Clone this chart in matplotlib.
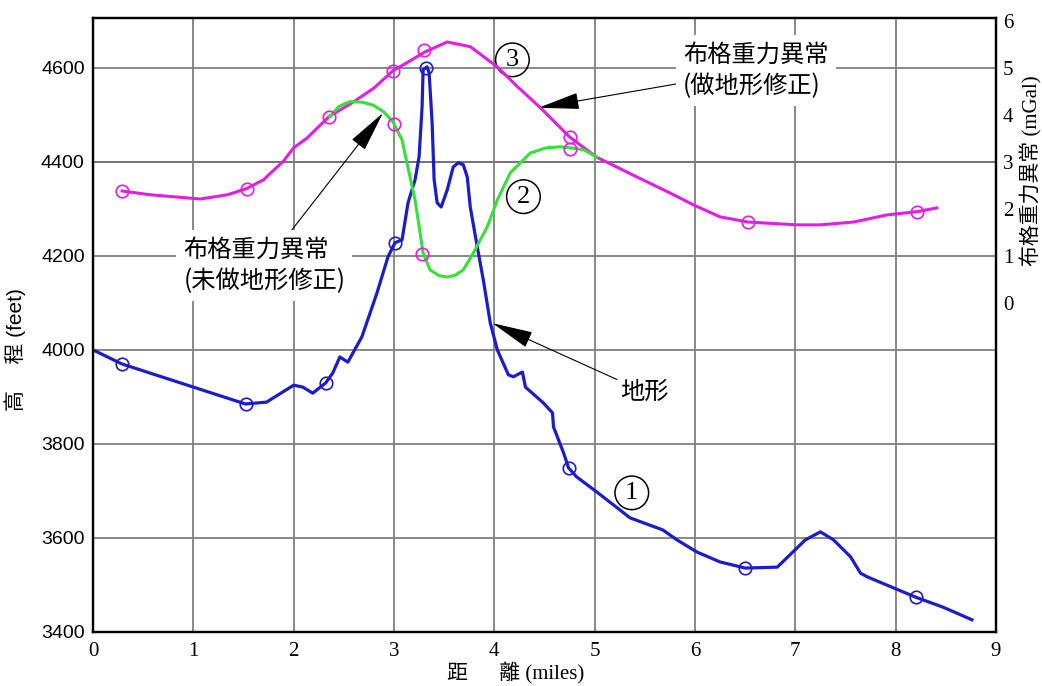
import matplotlib
matplotlib.use('Agg')
import matplotlib.pyplot as plt

CJK = 'Noto Sans CJK TC'

# topography (feet) along the profile
topo_x = [0.00, 0.29, 1.52, 1.73, 2.00, 2.09, 2.19, 2.32, 2.39, 2.46, 2.54, 2.68, 2.83, 2.94,
          3.01, 3.08, 3.14, 3.21, 3.25, 3.28, 3.29, 3.33, 3.35, 3.38, 3.40, 3.43, 3.47, 3.53,
          3.59, 3.64, 3.69, 3.73, 3.76, 3.83, 3.89, 3.96, 4.03, 4.14, 4.19, 4.28, 4.31, 4.49,
          4.58, 4.59, 4.69, 4.74, 4.82, 5.02, 5.25, 5.35, 5.68, 5.82, 6.02, 6.25, 6.50, 6.82,
          7.10, 7.25, 7.38, 7.55, 7.65, 7.72, 8.20, 8.47, 8.76]
topo_h = [4000, 3970, 3885, 3889, 3925, 3921, 3908, 3930, 3951, 3985, 3974, 4028, 4121, 4198,
          4228, 4234, 4313, 4362, 4411, 4517, 4596, 4602, 4589, 4483, 4362, 4313, 4304, 4340,
          4389, 4398, 4394, 4368, 4304, 4219, 4149, 4057, 4000, 3947, 3943, 3953, 3921, 3887,
          3866, 3836, 3781, 3749, 3730, 3698, 3660, 3643, 3617, 3596, 3570, 3549, 3536, 3538,
          3596, 3613, 3596, 3560, 3525, 3517, 3474, 3453, 3426]
topo_stn_x = [0.29, 1.52, 2.32, 3.01, 3.32, 4.74, 6.50, 8.20]
topo_stn_h = [3970, 3885, 3930, 4228, 4600, 3749, 3536, 3474]

# Bouguer anomaly with terrain correction (mGal)
bc_x = [0.29, 0.57, 1.07, 1.34, 1.53, 1.70, 1.90, 2.00, 2.13, 2.35, 2.60, 2.80, 2.99, 3.13,
        3.31, 3.53, 3.76, 4.03, 4.23, 4.46, 4.75, 5.02, 5.42, 5.75, 5.98, 6.25, 6.53, 7.02,
        7.25, 7.58, 7.91, 8.21, 8.41]
bc_g = [2.38, 2.30, 2.21, 2.30, 2.43, 2.62, 3.02, 3.30, 3.50, 3.96, 4.28, 4.57, 4.94, 5.11,
        5.34, 5.55, 5.45, 5.02, 4.60, 4.15, 3.53, 3.10, 2.68, 2.34, 2.09, 1.83, 1.72, 1.66,
        1.66, 1.72, 1.87, 1.94, 2.02]
bc_stn_x = [0.29, 1.53, 2.35, 2.99, 3.30, 4.75, 6.53, 8.21]
bc_stn_g = [2.38, 2.43, 3.96, 4.94, 5.38, 3.53, 1.72, 1.94]

# Bouguer anomaly without terrain correction (mGal)
nc_x = [2.36, 2.45, 2.56, 2.68, 2.79, 2.90, 2.99, 3.08, 3.14, 3.21, 3.26, 3.29, 3.36, 3.45,
        3.53, 3.61, 3.69, 3.79, 3.93, 4.03, 4.16, 4.36, 4.52, 4.66, 4.75, 4.89, 5.02]
nc_g = [3.96, 4.18, 4.28, 4.27, 4.21, 4.06, 3.85, 3.47, 2.87, 2.19, 1.49, 1.06, 0.70, 0.58,
        0.55, 0.59, 0.70, 1.06, 1.62, 2.19, 2.77, 3.19, 3.30, 3.32, 3.30, 3.26, 3.10]
nc_stn_x = [3.00, 3.28, 4.75]
nc_stn_g = [3.80, 1.04, 3.28]

BLUE = '#1c1cc8'
MAGENTA = '#e41de4'
GREEN = '#3ade3a'

fig = plt.figure(figsize=(10.42, 6.86), dpi=100)
ax = fig.add_axes([93 / 1042, 54 / 686, 903 / 1042, 614 / 686])
ax2 = ax.twinx()

ax.set_xlim(0, 9)
ax.set_ylim(3400, 4706)
ax2.set_ylim(-7, 6.06)

ax.set_xticks(range(10))
ax.set_yticks(range(3400, 4601, 200))
ax.grid(True, color='#808080', lw=1.3)
ax.axhline(4400, color='black', lw=1.3, zorder=1)
ax.tick_params(length=0)
ax.tick_params(axis='y', pad=6)
ax.tick_params(axis='x', pad=7)
for lab in ax.get_yticklabels():
    lab.set_fontfamily('Liberation Sans')
    lab.set_fontsize(14)
for lab in ax.get_xticklabels():
    lab.set_fontfamily('Liberation Serif')
    lab.set_fontsize(15)

ax2.set_yticks(range(0, 7))
ax2.set_yticks([0, 2, 4], minor=True)
ax2.tick_params(axis='y', which='major', length=0, pad=5)
ax2.tick_params(axis='y', which='minor', length=9, direction='in', width=1.2)
for lab in ax2.get_yticklabels():
    lab.set_fontfamily('Liberation Serif')
    lab.set_fontsize(15)

for a in (ax, ax2):
    for s in a.spines.values():
        s.set_linewidth(1.6)
        s.set_color('black')

ax.plot(topo_x, topo_h, color=BLUE, lw=2.3, zorder=3)
ax.plot(topo_stn_x, topo_stn_h, 'o', ms=9, mfc='none', mec=BLUE, mew=1.2, zorder=4)
ax2.plot(bc_x, bc_g, color=MAGENTA, lw=2.2)
ax2.plot(nc_x, nc_g, color=GREEN, lw=2.2)
ax2.plot(bc_stn_x, bc_stn_g, 'o', ms=9, mfc='none', mec=MAGENTA, mew=1.2)
ax2.plot(nc_stn_x, nc_stn_g, 'o', ms=9, mfc='none', mec=MAGENTA, mew=1.2)

arrow = dict(arrowstyle='-|>,head_length=1.5,head_width=0.3', color='black', lw=0.8,
             shrinkA=0, shrinkB=0)
box = dict(facecolor='white', edgecolor='none', pad=5)

ax.annotate('布格重力異常\n(做地形修正)', xy=(4.44, 4515), xytext=(5.88, 4595),
            fontsize=17.5, family=CJK, ha='left', va='center', linespacing=1.25,
            bbox=box, arrowprops=arrow)
ax.annotate('布格重力異常\n(未做地形修正)', xy=(2.89, 4504), xytext=(0.90, 4180),
            fontsize=17.5, family=CJK, ha='left', va='center', linespacing=1.25,
            bbox=box, arrowprops=arrow)
ax.annotate('地形', xy=(3.98, 4057), xytext=(5.25, 3911),
            fontsize=17.5, family=CJK, ha='left', va='center', arrowprops=arrow)

circ = dict(boxstyle='circle,pad=0.22', facecolor='none', edgecolor='black', lw=1.1)
for num, x, h in [('1', 5.37, 3696), ('2', 4.29, 4326), ('3', 4.18, 4617)]:
    ax.text(x, h, num, fontsize=19, family='Liberation Serif', ha='center', va='center',
            bbox=circ, zorder=5)

fig.text(15 / 1042, 1 - 350 / 686, '高\u3000 程 (feet)', rotation=90, ha='center', va='center',
         fontsize=15, family=['Liberation Sans', CJK])
fig.text(516 / 1042, 1 - 672 / 686, '距\u3000  離 (miles)', ha='center', va='center',
         fontsize=15, family=['Liberation Serif', CJK])
fig.text(1031 / 1042, 1 - 266 / 686, '布格重力異常 (mGal)', rotation=90, ha='center', va='bottom',
         fontsize=15, family=['Liberation Serif', CJK])

fig.savefig('out.png', dpi=100)
